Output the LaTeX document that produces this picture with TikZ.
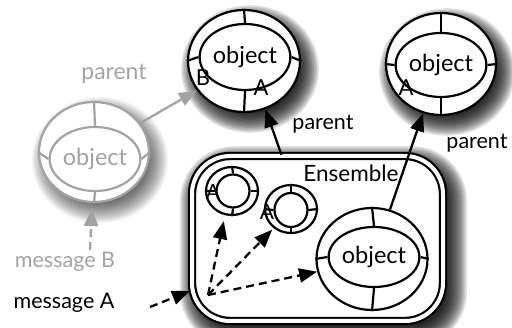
\documentclass[tikz,border=0pt]{standalone}
\usepackage{fontspec}
\setmainfont{Lato}
\usetikzlibrary{shapes.geometric,arrows.meta,calc,backgrounds}
\definecolor{ghost}{gray}{0.64}
% spokes joining an inner ring to its outer ring
\newcommand\ringspokes[3]{%
  \foreach \ang in {90,0,180,270}
    \draw[line width=2.2pt,#3] (#1.\ang) -- (#2.\ang);}
% soft drop shadow under an oval node: node, half width, half height, layer opacity
\newcommand\ovalshadow[4]{%
  \foreach \k in {0,...,13}
    \fill[black, opacity=#4] ([shift={(6,8)}]#1.center)
      ellipse ({#2-8+1.6*\k} and {#3-8+1.6*\k});}
\begin{document}
\begin{tikzpicture}[x=1pt,y=-1pt,
  ring/.style={ellipse, draw, line width=2.2pt, inner sep=0pt},
  plainring/.style={ring, fill=white},
  ghostring/.style={ring, draw=ghost, fill=white},
  objtext/.style={font=\fontsize{23.5}{24}\selectfont},
  lbl/.style={font=\fontsize{22}{22}\selectfont, inner sep=0pt},
  txt/.style={font=\fontsize{21.5}{22}\selectfont, inner sep=0pt},
  arr/.style={line width=2.3pt, -{Triangle[length=18pt,width=14pt]}},
  dasharr/.style={arr, dash pattern=on 8pt off 5pt},
]
\useasboundingbox (0,0) rectangle (512,328);

% ---- ghost (grey) object ----
\node[ghostring, minimum width=110pt, minimum height=100pt] (go) at (94,152) {};
\node[ring, draw=ghost, text=ghost, objtext, minimum width=72pt, minimum height=64pt] (gi) at (95,159) {object};
\ringspokes{gi}{go}{ghost}

% ---- top middle object ----
\node[plainring, minimum width=112pt, minimum height=102pt] (mo) at (244,61) {};
\node[ring, objtext, minimum width=70pt, minimum height=66pt] (mi) at (245,57) {object};
\ringspokes{mi}{mo}{}
\node[lbl] (mB) at (203,78) {B};
\node[lbl] (mA) at (261,88) {A};

% ---- top right object ----
\node[plainring, minimum width=110pt, minimum height=102pt] (ro) at (441,64) {};
\node[ring, objtext, minimum width=72pt, minimum height=64pt] (ri) at (441,65) {object};
\ringspokes{ri}{ro}{}
\node[lbl] (rA) at (406,88) {A};

% ---- ensemble ----
\node[draw, line width=2.2pt, double, double distance=4pt, fill=white,
      rounded corners=38pt, minimum width=251pt, minimum height=165pt]
      (ens) at (317.5,238.5) {};
\node[inner sep=0pt, font=\fontsize{22.5}{23}\selectfont] (enslbl) at (351,173) {Ensemble};

% small objects inside the ensemble
\node[plainring, minimum width=52pt, minimum height=48pt] (s1o) at (232,191) {};
\node[ring, minimum width=33pt, minimum height=33pt] (s1i) at (233,191) {};
\ringspokes{s1i}{s1o}{}
\node[lbl, font=\fontsize{21}{21}\selectfont] (s1A) at (213,192) {A};

\node[plainring, minimum width=52pt, minimum height=48pt] (s2o) at (291,209) {};
\node[ring, minimum width=33pt, minimum height=34pt] (s2i) at (291,210) {};
\ringspokes{s2i}{s2o}{}
\node[lbl, font=\fontsize{21}{21}\selectfont] (s2A) at (267,212) {A};

% large object inside the ensemble
\node[plainring, minimum width=111pt, minimum height=102pt] (bo) at (372,259) {};
\node[ring, objtext, minimum width=70pt, minimum height=60pt] (bi) at (374,257) {object};
\ringspokes{bi}{bo}{}

% ---- drop shadows ----
\begin{scope}[on background layer]
  \ovalshadow{go}{55}{50}{0.06}
  \ovalshadow{mo}{56}{51}{0.12}
  \ovalshadow{ro}{55}{51}{0.12}
  \foreach \k in {0,...,13}
    \fill[black, opacity=0.12, rounded corners={34+1.6*\k}]
      ($(ens.north west)+(6+4-1.6*\k, 8+4-1.6*\k)$) rectangle
      ($(ens.south east)+(6-4+1.6*\k, 8-4+1.6*\k)$);
\end{scope}

% ---- text labels ----
\node[txt, text=ghost, font=\fontsize{23}{23}\selectfont] (gparent) at (114,74) {parent};
\node[txt] (mparent) at (323,124) {parent};
\node[txt] (rparent) at (477,143) {parent};
\node[txt, text=ghost] (msgBlbl) at (65,262) {message B};
\node[txt] (msgAlbl) at (64,303) {message A};

% ---- connectors ----
\coordinate (hub) at (208,295);
\coordinate (msgAstart) at (150,307);
\coordinate (msgAend) at (190,291);
\coordinate (msgBstart) at (90,250);

\draw[arr, draw=ghost, -{Triangle[length=18pt,width=14pt,fill=ghost]}] (go.32) -- (mo.212);
\draw[dasharr, draw=ghost, -{Triangle[length=18pt,width=14pt,fill=ghost]}, shorten >=5pt] (msgBstart) -- (go.268);

\draw[arr] ([xshift=-36pt]ens.north) -- (mo.294);
\draw[arr] (bo.70) -- (ro.250);

\draw[dasharr] (msgAstart) -- (msgAend);
\draw[dasharr, shorten >=6pt] (hub) -- (s1o.254);
\draw[dasharr, shorten >=2pt] (hub) -- (s2o.228);
\draw[dasharr] (hub) -- (bo.193);
\end{tikzpicture}
\end{document}
